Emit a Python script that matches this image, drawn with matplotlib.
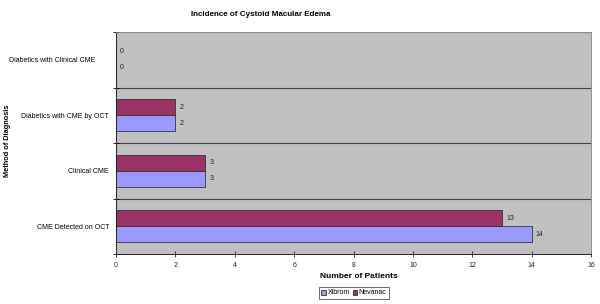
import matplotlib
matplotlib.use("Agg")
import matplotlib.pyplot as plt
import matplotlib.transforms as mtransforms
import numpy as np

categories = ["CME Detected on OCT", "Clinical CME", "Diabetics with CME by OCT", "Diabetics with Clinical CME"]
xibrom = [14, 3, 2, 0]
nevanac = [13, 3, 2, 0]
series_names = ["Xibrom", "Nevanac"]
xticks = [0, 2, 4, 6, 8, 10, 12, 14, 16]

plt.rcParams['font.family'] = ['Liberation Sans', 'DejaVu Sans']

fig = plt.figure(figsize=(6, 3.04), dpi=100)
ax = fig.add_axes([116/600, 1-254/304, (591-116)/600, (254-32)/304])
ax.set_facecolor('#C0C0C0')

y = np.arange(len(categories))
h = 0.29
bx = ax.barh(y - h/2, xibrom, height=h, color='#9999FF', edgecolor='#333333', linewidth=0.6, label=series_names[0])
bn = ax.barh(y + h/2, nevanac, height=h, color='#993366', edgecolor='#333333', linewidth=0.6, label=series_names[1])

for bars, vals in ((bx, xibrom), (bn, nevanac)):
    for b, v in zip(bars, vals):
        ax.annotate(str(v), (v, b.get_y() + b.get_height()/2), xytext=(3, 0),
                    textcoords='offset points', va='center', ha='left', fontsize=5, color='#222222')

ax.set_xlim(0, 16)
ax.set_ylim(-0.5, len(categories) - 0.5)
ax.set_xticks(xticks)
ax.set_xticklabels([str(t) for t in xticks], fontsize=5)
ax.set_yticks(y)
ax.set_yticklabels(categories, fontsize=5)
ax.tick_params(axis='y', length=0, pad=5)
ax.tick_params(axis='x', length=4, width=0.6, direction='inout', pad=4, colors='#222222')

# the top category label sits a little further left in the reference
lbl = ax.get_yticklabels()[-1]
lbl.set_transform(lbl.get_transform() + mtransforms.ScaledTranslation(-14/100, 0, fig.dpi_scale_trans))

for b in np.arange(0.5, len(categories) - 0.5, 1):
    ax.axhline(b, color='#444444', linewidth=0.8, zorder=0.5)
ax.set_yticks(np.arange(-0.5, len(categories), 1), minor=True)
ax.tick_params(axis='y', which='minor', length=4, width=0.6, direction='inout')

for s in ['top', 'right']:
    ax.spines[s].set_color('#808080')
    ax.spines[s].set_linewidth(0.6)
for s in ['left', 'bottom']:
    ax.spines[s].set_color('#222222')
    ax.spines[s].set_linewidth(0.7)

fig.text(261/600, 1-14/304, "Incidence of Cystoid Macular Edema", ha='center', va='center',
         fontsize=5.8, fontweight='bold')
fig.text(8/600, 1-141/304, "Method of Diagnosis", rotation=90, ha='center', va='center',
         fontsize=5.3, fontweight='bold')
fig.text(359/600, 1-276/304, "Number of Patients", ha='center', va='center',
         fontsize=6, fontweight='bold')

leg = fig.legend(handles=[bx, bn], labels=series_names, loc='center', bbox_to_anchor=(354/600, 1-293/304),
                 ncol=2, fontsize=5, frameon=True, fancybox=False, edgecolor='#222222',
                 handlelength=0.7, handleheight=0.7, handletextpad=0.2, columnspacing=0.4,
                 borderpad=0.3, borderaxespad=0)
leg.get_frame().set_linewidth(0.6)

fig.savefig("out.png", dpi=100, facecolor='white')
